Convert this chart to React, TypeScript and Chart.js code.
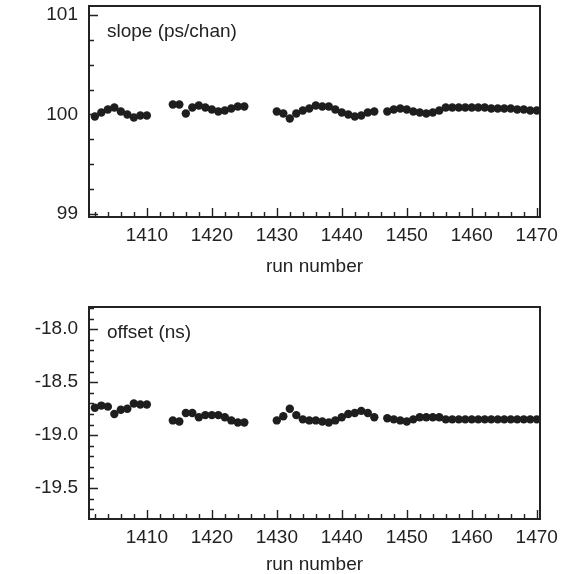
import React, { useEffect, useRef } from "react";
import { Chart, registerables } from "chart.js";

Chart.register(...registerables);

// ---------------- data ----------------
const runs = [
  1402, 1403, 1404, 1405, 1406, 1407, 1408, 1409, 1410,
  1414, 1415, 1416, 1417, 1418, 1419, 1420, 1421, 1422, 1423, 1424, 1425,
  1430, 1431, 1432, 1433, 1434, 1435, 1436, 1437, 1438, 1439, 1440, 1441, 1442, 1443, 1444, 1445,
  1447, 1448, 1449, 1450, 1451, 1452, 1453, 1454, 1455, 1456, 1457, 1458, 1459, 1460,
  1461, 1462, 1463, 1464, 1465, 1466, 1467, 1468, 1469, 1470,
];

const slopeValues = [
  99.98, 100.02, 100.05, 100.07, 100.03, 100.0, 99.97, 99.99, 99.99,
  100.1, 100.1, 100.01, 100.07, 100.09, 100.07, 100.05, 100.03, 100.04, 100.06, 100.08, 100.08,
  100.03, 100.01, 99.96, 100.01, 100.04, 100.06, 100.09, 100.08, 100.08, 100.05, 100.02, 100.0, 99.98, 99.99, 100.02, 100.03,
  100.03, 100.05, 100.06, 100.05, 100.03, 100.02, 100.01, 100.02, 100.04, 100.07, 100.07, 100.07, 100.07, 100.07,
  100.07, 100.07, 100.06, 100.06, 100.06, 100.06, 100.05, 100.05, 100.04, 100.04,
];

const offsetValues = [
  -18.74, -18.72, -18.73, -18.8, -18.76, -18.75, -18.7, -18.71, -18.71,
  -18.86, -18.87, -18.79, -18.79, -18.83, -18.81, -18.81, -18.81, -18.83, -18.86, -18.88, -18.88,
  -18.86, -18.82, -18.75, -18.81, -18.85, -18.86, -18.86, -18.87, -18.88, -18.86, -18.83, -18.8, -18.79, -18.77, -18.79, -18.83,
  -18.84, -18.85, -18.86, -18.87, -18.85, -18.83, -18.83, -18.83, -18.83, -18.85, -18.85, -18.85, -18.85, -18.85,
  -18.85, -18.85, -18.85, -18.85, -18.85, -18.85, -18.85, -18.85, -18.85, -18.85,
];

const xTickValues = [1410, 1420, 1430, 1440, 1450, 1460, 1470];
const slopeTickValues = [99, 100, 101];
const offsetTickValues = [-18.0, -18.5, -19.0, -19.5];

const xAxisTitle = "run number";
const slopeLabel = "slope (ps/chan)";
const offsetLabel = "offset (ns)";

// ---------------- styling ----------------
const FONT = '"Liberation Sans", Arial, Helvetica, sans-serif';
const INK = "#222222";
const DOT = "#1e1e1e";
const X_MIN = 1401.1;
const X_MAX = 1470.5;

type PanelProps = {
  values: number[];
  label: string;
  yMin: number;
  yMax: number;
  majors: number[];
  minorStep: number;
  decimals: number;
  padTop: number;
  axisH: number;
  titlePad: number;
  top: number;
  height: number;
};

const framePlugin = {
  id: "frameTicks",
  afterDatasetsDraw(chart: any, _args: any, opts: any) {
    const { ctx, chartArea } = chart;
    const { left, right, top, bottom } = chartArea;
    const xs = chart.scales.x;
    const ys = chart.scales.y;
    ctx.save();
    ctx.strokeStyle = INK;
    ctx.lineWidth = 1.4;
    ctx.beginPath();
    for (let v = 1402; v <= 1470; v += 2) {
      const px = Math.round(xs.getPixelForValue(v)) + 0.5;
      const len = v % 10 === 0 ? 9 : 5;
      ctx.moveTo(px, bottom);
      ctx.lineTo(px, bottom - len);
    }
    const step = opts.minorStep as number;
    const majors = opts.majors as number[];
    const i0 = Math.ceil(opts.yMin / step - 1e-6);
    const i1 = Math.floor(opts.yMax / step + 1e-6);
    for (let i = i0; i <= i1; i++) {
      const v = i * step;
      const isMajor = majors.some((m) => Math.abs(m - v) < step / 10);
      const py = Math.round(ys.getPixelForValue(v)) + 0.5;
      const len = isMajor ? 9 : 5;
      ctx.moveTo(left, py);
      ctx.lineTo(left + len, py);
    }
    ctx.stroke();
    ctx.lineWidth = 2;
    ctx.strokeRect(left, top, right - left, bottom - top);
    ctx.fillStyle = INK;
    ctx.font = `19px ${FONT}`;
    ctx.textBaseline = "middle";
    ctx.textAlign = "left";
    ctx.fillText(opts.label, left + 18, top + 25.5);
    ctx.restore();
  },
};

function Panel(p: PanelProps) {
  const ref = useRef<HTMLCanvasElement>(null);
  useEffect(() => {
    if (!ref.current) return;
    const data = runs.map((r, i) => ({ x: r, y: p.values[i] }));
    const chart = new Chart(ref.current, {
      type: "scatter",
      data: {
        datasets: [
          {
            data,
            backgroundColor: DOT,
            borderWidth: 0,
            pointRadius: 4.2,
            pointHoverRadius: 4.2,
          },
        ],
      },
      options: {
        responsive: false,
        animation: false,
        events: [],
        layout: { padding: { top: p.padTop, right: 27, left: 0, bottom: 0 } },
        plugins: {
          legend: { display: false },
          tooltip: { enabled: false },
          frameTicks: {
            label: p.label,
            yMin: p.yMin,
            yMax: p.yMax,
            majors: p.majors,
            minorStep: p.minorStep,
          },
        } as any,
        scales: {
          x: {
            type: "linear",
            min: X_MIN,
            max: X_MAX,
            grid: { display: false, drawTicks: false },
            border: { display: false },
            afterBuildTicks: (s: any) => {
              s.ticks = xTickValues.map((v) => ({ value: v }));
            },
            afterFit: (s: any) => {
              s.height = p.axisH;
              s.paddingLeft = 0;
              s.paddingRight = 0;
            },
            ticks: {
              padding: 7.5,
              color: INK,
              font: { family: FONT, size: 19 },
              maxRotation: 0,
              autoSkip: false,
              callback: (v: any) => String(v),
            },
            title: {
              display: true,
              text: xAxisTitle,
              color: INK,
              font: { family: FONT, size: 19, lineHeight: 1 },
              padding: { top: 0, bottom: p.titlePad },
            },
          },
          y: {
            type: "linear",
            min: p.yMin,
            max: p.yMax,
            grid: { display: false, drawTicks: false },
            border: { display: false },
            afterBuildTicks: (s: any) => {
              s.ticks = p.majors.map((v) => ({ value: v }));
            },
            afterFit: (s: any) => {
              s.width = 89;
              s.paddingTop = 0;
              s.paddingBottom = 0;
            },
            ticks: {
              padding: 11,
              color: INK,
              font: { family: FONT, size: 19 },
              autoSkip: false,
              callback: (v: any) => Number(v).toFixed(p.decimals),
            },
          },
        },
      },
      plugins: [framePlugin],
    });
    return () => chart.destroy();
  }, []);
  return (
    <div style={{ position: "absolute", left: 0, top: p.top, width: 567, height: p.height }}>
      <canvas ref={ref} width={567} height={p.height} style={{ display: "block" }} />
    </div>
  );
}

export default function App() {
  return (
    <div style={{ position: "absolute", left: 0, top: 0, width: 567, height: 574, overflow: "hidden", background: "#fff" }}>
      <Panel
        values={slopeValues}
        label={slopeLabel}
        yMin={98.97}
        yMax={101.09}
        majors={slopeTickValues}
        minorStep={0.25}
        decimals={0}
        padTop={6}
        axisH={70}
        titlePad={11}
        top={0}
        height={287}
      />
      <Panel
        values={offsetValues}
        label={offsetLabel}
        yMin={-19.79}
        yMax={-17.79}
        majors={offsetTickValues}
        minorStep={0.1}
        decimals={1}
        padTop={20}
        axisH={55}
        titlePad={0}
        top={287}
        height={287}
      />
    </div>
  );
}
